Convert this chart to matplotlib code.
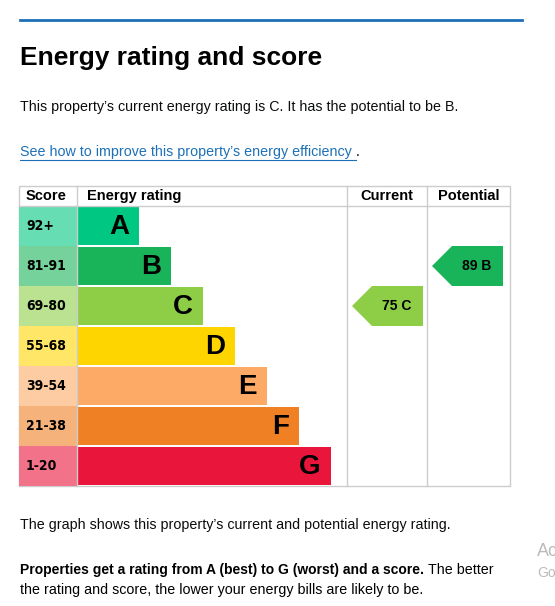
import matplotlib
matplotlib.use("Agg")
import matplotlib.pyplot as plt
from matplotlib.patches import Polygon, Rectangle

bands = ["A", "B", "C", "D", "E", "F", "G"]
score_ranges = ["92+", "81-91", "69-80", "55-68", "39-54", "21-38", "1-20"]
bar_colors = ["#00c781", "#19b459", "#8dce46", "#ffd500", "#fcaa65", "#ef8023", "#e9153b"]
score_colors = ["#66ddb3", "#75d29b", "#bbe290", "#ffe666", "#fdcca3", "#f5b37b", "#f27389"]
bar_lengths = [62, 94, 126, 158, 190, 222, 254]
current_score, current_band = 75, "C"
potential_score, potential_band = 89, "B"

fig = plt.figure(figsize=(5.55, 6.06), dpi=100)
ax = fig.add_axes([0, 0, 1, 1])
ax.set_xlim(0, 555); ax.set_ylim(606, 0); ax.axis("off")
F = "Liberation Sans"
blue = "#1d70b8"

ax.plot([20, 522], [20, 20], color=blue, lw=2)
ax.text(20, 58, "Energy rating and score", fontsize=19, fontweight="bold", family=F, va="center")
ax.text(20, 107, "This property\u2019s current energy rating is C. It has the potential to be B.",
        fontsize=10.3, family=F, va="center", color="#0b0c0c")
ax.text(20, 152, "See how to improve this property\u2019s energy efficiency", fontsize=10.3, family=F,
        va="center", color=blue)
ax.plot([20, 356], [160, 160], color=blue, lw=0.8)
ax.text(356, 152, ".", fontsize=10.3, family=F, va="center")

top, rh = 206, 40
grid = "#cccccc"
ax.add_patch(Rectangle((19, 186), 491, 300, fill=False, ec=grid, lw=1))
for x in [77, 347, 427]:
    ax.plot([x, x], [186, 486], color=grid, lw=1)
ax.plot([19, 510], [206, 206], color=grid, lw=1)
for x, t in [(26, "Score"), (87, "Energy rating")]:
    ax.text(x, 196, t, fontsize=10.5, fontweight="bold", family=F, va="center")
ax.text(387, 196, "Current", fontsize=10.5, fontweight="bold", family=F, va="center", ha="center")
ax.text(469, 196, "Potential", fontsize=10.5, fontweight="bold", family=F, va="center", ha="center")

ys = [top + rh * i + rh / 2 for i in range(len(bands))]
ax.barh(ys, [58] * 7, left=19, height=rh, color=score_colors)
ax.barh(ys, bar_lengths, left=77, height=rh - 2, color=bar_colors)
for y, s, b, L in zip(ys, score_ranges, bands, bar_lengths):
    ax.text(26, y, s, fontsize=10, fontweight="bold", family="DejaVu Sans", va="center",
            fontstretch="condensed")
    ax.text(77 + L - 10, y + 1, b, fontsize=20, fontweight="bold", family=F, va="center", ha="right")

def arrow(x0, x1, band, score):
    i = bands.index(band); y0 = top + rh * i; y1 = y0 + rh
    ax.add_patch(Polygon([(x0, (y0 + y1) / 2), (x0 + 20, y0), (x1, y0), (x1, y1), (x0 + 20, y1)],
                         closed=True, color=bar_colors[i], lw=0))
    ax.text(x1 - 12, (y0 + y1) / 2, f"{score} {band}", fontsize=10, fontweight="bold", family=F,
            va="center", ha="right")

arrow(352, 423, current_band, current_score)
arrow(432, 503, potential_band, potential_score)

ax.text(20, 525, "The graph shows this property\u2019s current and potential energy rating.",
        fontsize=10.3, family=F, va="center", color="#0b0c0c")
t = ax.text(20, 570, "Properties get a rating from A (best) to G (worst) and a score.", fontsize=10,
            fontweight="bold", family=F, va="center")
fig.canvas.draw()
bb = t.get_window_extent(fig.canvas.get_renderer())
ax.text(bb.x1 + 4, 570, "The better", fontsize=10.3, family=F, va="center")
ax.text(20, 590, "the rating and score, the lower your energy bills are likely to be.", fontsize=10.3,
        family=F, va="center")
ax.text(537, 551, "Ac", fontsize=13, family=F, va="center", color="#bbbbbb", clip_on=False)
ax.text(537, 573, "Go", fontsize=10, family=F, va="center", color="#bbbbbb")
fig.savefig("out.png", dpi=100)
